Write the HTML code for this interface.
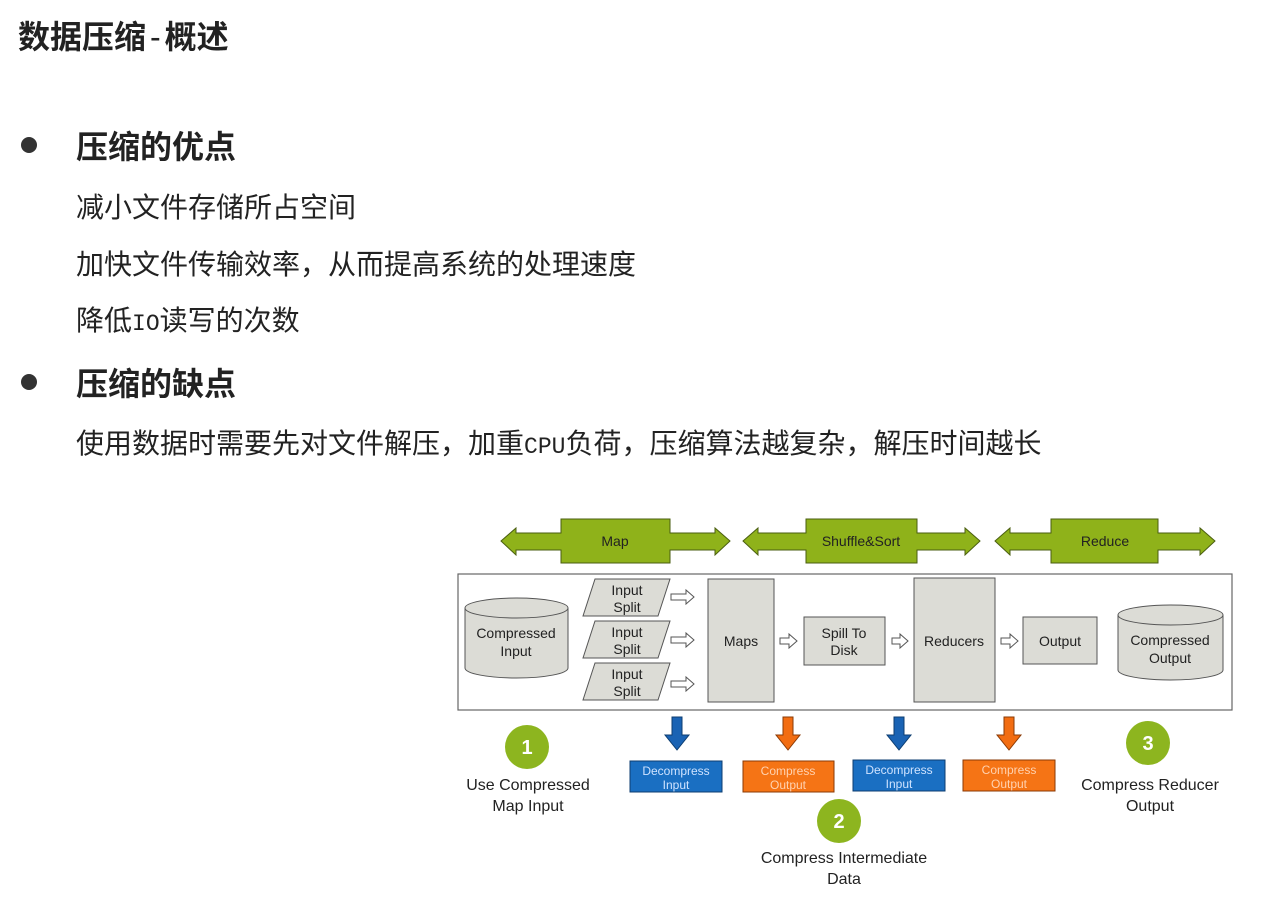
<!DOCTYPE html>
<html><head><meta charset="utf-8"><style>
body{margin:0;width:1274px;height:900px;background:#fff;position:relative;overflow:hidden;font-family:"Liberation Sans","Noto Sans CJK SC",sans-serif;color:#222}
.t{position:absolute;white-space:nowrap;line-height:1.4}
.h{font-weight:bold;font-size:32px}
.b{font-size:28px}
.m{font-family:"Liberation Mono",monospace;font-size:23px}
.dot{position:absolute;width:16px;height:16px;border-radius:50%;background:#333}
</style></head><body>
<div class="t h" style="left:18px;top:15px;font-size:32px">数据压缩<span style="font-weight:normal;padding:0 4px">-</span>概述</div>
<div class="dot" style="left:21px;top:137px"></div>
<div class="t h" style="left:76px;top:125px">压缩的优点</div>
<div class="t b" style="left:76px;top:188px">减小文件存储所占空间</div>
<div class="t b" style="left:76px;top:245px">加快文件传输效率，从而提高系统的处理速度</div>
<div class="t b" style="left:76px;top:301px">降低<span class="m">IO</span>读写的次数</div>
<div class="dot" style="left:21px;top:374px"></div>
<div class="t h" style="left:76px;top:362px">压缩的缺点</div>
<div class="t b" style="left:76px;top:424px">使用数据时需要先对文件解压，加重<span class="m">CPU</span>负荷，压缩算法越复杂，解压时间越长</div>
<svg width="1274" height="900" style="position:absolute;left:0;top:0" font-family="Liberation Sans, sans-serif">
<g fill="#8fb21a" stroke="#4a5e10" stroke-width="1">
<polygon points="501,541 516,528 516,533 561,533 561,519 670,519 670,533 715,533 715,528 730,541 715,555 715,550 670,550 670,563 561,563 561,550 516,550 516,555"/>
<polygon points="743,541 758,528 758,533 806,533 806,519 917,519 917,533 965,533 965,528 980,541 965,555 965,550 917,550 917,563 806,563 806,550 758,550 758,555"/>
<polygon points="995,541 1010,528 1010,533 1051,533 1051,519 1158,519 1158,533 1200,533 1200,528 1215,541 1200,555 1200,550 1158,550 1158,563 1051,563 1051,550 1010,550 1010,555"/>
</g>
<g font-size="14" fill="#222" text-anchor="middle">
<text x="615" y="546">Map</text><text x="861" y="546">Shuffle&amp;Sort</text><text x="1105" y="546">Reduce</text></g>
<rect x="458" y="574" width="774" height="136" fill="#fff" stroke="#666" stroke-width="1.2"/>
<g fill="#dcdcd6" stroke="#555" stroke-width="1">
<path d="M465,608 L465,668 A51.5,10 0 0 0 568,668 L568,608"/><ellipse cx="516.5" cy="608" rx="51.5" ry="10"/>
<path d="M1118,615 L1118,670 A52.5,10 0 0 0 1223,670 L1223,615"/><ellipse cx="1170.5" cy="615" rx="52.5" ry="10"/>
<polygon points="595,579 670,579 658,616 583,616"/>
<polygon points="595,621 670,621 658,658 583,658"/>
<polygon points="595,663 670,663 658,700 583,700"/>
<rect x="708" y="579" width="66" height="123"/>
<rect x="804" y="617" width="81" height="48"/>
<rect x="914" y="578" width="81" height="124"/>
<rect x="1023" y="617" width="74" height="47"/>
</g>
<g fill="#fff" stroke="#555" stroke-width="1">
<polygon points="671,594 686,594 686,590 694,597 686,604 686,600 671,600"/>
<polygon points="671,637 686,637 686,633 694,640 686,647 686,643 671,643"/>
<polygon points="671,681 686,681 686,677 694,684 686,691 686,687 671,687"/>
<polygon points="780,638 789,638 789,634 797,641 789,648 789,644 780,644"/>
<polygon points="892,638 900,638 900,634 908,641 900,648 900,644 892,644"/>
<polygon points="1001,638 1010,638 1010,634 1018,641 1010,648 1010,644 1001,644"/>
</g>
<g font-size="14" fill="#222" text-anchor="middle">
<text x="516" y="638">Compressed</text><text x="516" y="656">Input</text>
<text x="1170" y="645">Compressed</text><text x="1170" y="663">Output</text>
<text x="627" y="595">Input</text><text x="627" y="612">Split</text>
<text x="627" y="637">Input</text><text x="627" y="654">Split</text>
<text x="627" y="679">Input</text><text x="627" y="696">Split</text>
<text x="741" y="646">Maps</text>
<text x="844" y="638">Spill To</text><text x="844" y="655">Disk</text>
<text x="954" y="646">Reducers</text>
<text x="1060" y="646">Output</text>
</g>
<g stroke-width="1">
<polygon points="672,717 682,717 682,735 689,735 677,750 665,735 672,735" fill="#1a63b4" stroke="#0d3d70"/>
<polygon points="783,717 793,717 793,735 800,735 788,750 776,735 783,735" fill="#f26d12" stroke="#8a3a05"/>
<polygon points="894,717 904,717 904,735 911,735 899,750 887,735 894,735" fill="#1a63b4" stroke="#0d3d70"/>
<polygon points="1004,717 1014,717 1014,735 1021,735 1009,750 997,735 1004,735" fill="#f26d12" stroke="#8a3a05"/>
<rect x="630" y="761" width="92" height="31" fill="#1a6fc2" stroke="#0d3d70"/>
<rect x="743" y="761" width="91" height="31" fill="#f57415" stroke="#8a3a05"/>
<rect x="853" y="760" width="92" height="31" fill="#1a6fc2" stroke="#0d3d70"/>
<rect x="963" y="760" width="92" height="31" fill="#f57415" stroke="#8a3a05"/>
</g>
<g font-size="12" fill="#cfe3ff" text-anchor="middle">
<text x="676" y="775">Decompress</text><text x="676" y="789">Input</text>
<text x="899" y="774">Decompress</text><text x="899" y="788">Input</text></g>
<g font-size="12" fill="#ffd2b0" text-anchor="middle">
<text x="788" y="775">Compress</text><text x="788" y="789">Output</text>
<text x="1009" y="774">Compress</text><text x="1009" y="788">Output</text></g>
<g fill="#8db51f"><circle cx="527" cy="747" r="22"/><circle cx="839" cy="821" r="22"/><circle cx="1148" cy="743" r="22"/></g>
<g font-size="20" font-weight="bold" fill="#fff" text-anchor="middle">
<text x="527" y="754">1</text><text x="839" y="828">2</text><text x="1148" y="750">3</text></g>
<g font-size="16" fill="#222" text-anchor="middle">
<text x="528" y="790">Use Compressed</text><text x="528" y="811">Map Input</text>
<text x="844" y="863">Compress Intermediate</text><text x="844" y="884">Data</text>
<text x="1150" y="790">Compress Reducer</text><text x="1150" y="811">Output</text></g>
</svg>
</body></html>
